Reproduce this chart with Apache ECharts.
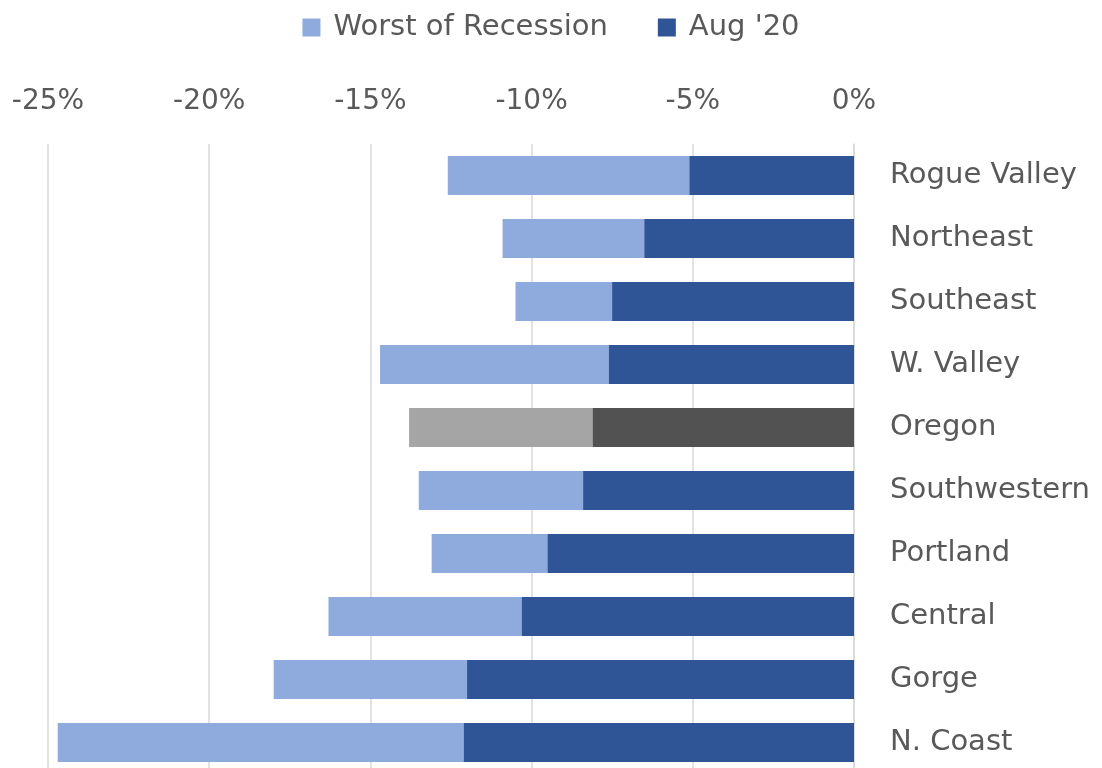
<!DOCTYPE html>
<html>
<head>
<meta charset="utf-8">
<script src="https://cdn.jsdelivr.net/npm/echarts@6/dist/echarts.min.js"></script>
<style>
  html, body { margin: 0; padding: 0; background: #fff; }
  #chart { width: 1102px; height: 768px; }
</style>
</head>
<body>
<div id="chart"></div>
<script>
const regions = ['Rogue Valley', 'Northeast', 'Southeast', 'W. Valley', 'Oregon',
  'Southwestern', 'Portland', 'Central', 'Gorge', 'N. Coast']
const worstOfRecession = [-12.6, -10.9, -10.5, -14.7, -13.8, -13.5, -13.1, -16.3, -18.0, -24.7]
const aug20 = [-5.1, -6.5, -7.5, -7.6, -8.1, -8.4, -9.5, -10.3, -12.0, -12.1]
const xTicks = [-25, -20, -15, -10, -5, 0]

const textColor = '#595959'
const font = 'DejaVu Sans'

// Oregon row is drawn in grey
function styled(values, color, greyColor) {
  return values.map((v, i) => ({
    value: v,
    itemStyle: { color: regions[i] === 'Oregon' ? greyColor : color }
  }))
}

const chart = echarts.init(document.getElementById('chart'))

chart.setOption({
  backgroundColor: '#fff',
  animation: false,
  legend: {
    top: 8,
    left: 'center',
    itemWidth: 18,
    itemHeight: 18,
    itemGap: 50,
    icon: 'rect',
    data: ['Worst of Recession', "Aug '20"],
    textStyle: { color: textColor, fontSize: 29, fontFamily: font, padding: [0, 0, 0, 8] }
  },
  grid: {
    left: 48,
    right: 248,
    top: 144,
    height: 630,
    outerBoundsMode: 'none'
  },
  xAxis: {
    type: 'value',
    position: 'top',
    min: xTicks[0],
    max: xTicks[xTicks.length - 1],
    interval: 5,
    axisLine: { show: false },
    axisTick: { show: false },
    axisLabel: {
      color: textColor,
      fontSize: 28,
      fontFamily: font,
      margin: 28,
      formatter: '{value}%'
    },
    splitLine: { lineStyle: { color: '#d9d9d9', width: 1.5 } }
  },
  yAxis: {
    type: 'category',
    data: regions,
    inverse: true,
    position: 'right',
    axisLine: { show: true, lineStyle: { color: '#d9d9d9', width: 1.5 } },
    axisTick: { show: false },
    axisLabel: {
      color: textColor,
      fontSize: 29,
      fontFamily: font,
      margin: 36,
      align: 'left',
      padding: [4, 0, 0, 0]
    }
  },
  series: [
    {
      name: 'Worst of Recession',
      type: 'bar',
      barWidth: 39,
      barGap: '-100%',
      itemStyle: { color: '#8faadc' },
      data: styled(worstOfRecession, '#8faadc', '#a5a5a5')
    },
    {
      name: "Aug '20",
      type: 'bar',
      barWidth: 39,
      barGap: '-100%',
      itemStyle: { color: '#2f5597' },
      data: styled(aug20, '#2f5597', '#525252')
    }
  ]
})
</script>
</body>
</html>
